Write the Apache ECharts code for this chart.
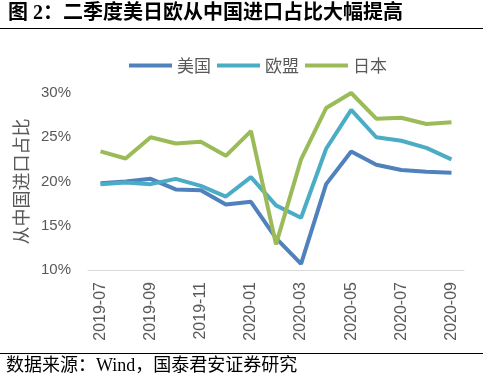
<!DOCTYPE html>
<html><head><meta charset="utf-8">
<script src="https://cdn.jsdelivr.net/npm/echarts@6/dist/echarts.min.js"></script>
<style>html,body{margin:0;padding:0;background:#fff}#c{width:483px;height:379px}</style>
</head><body><div id="c"></div>
<script>
const categories = ['2019-07','2019-08','2019-09','2019-10','2019-11','2019-12','2020-01','2020-02','2020-03','2020-04','2020-05','2020-06','2020-07','2020-08','2020-09'];
const usValues = [19.8, 20.0, 20.3, 19.1, 19.0, 17.4, 17.7, 13.6, 10.7, 19.7, 23.4, 21.9, 21.3, 21.1, 21.0];
const euValues = [19.7, 19.9, 19.7, 20.3, 19.5, 18.3, 20.5, 17.3, 15.9, 23.7, 28.1, 25.0, 24.6, 23.8, 22.5];
const jpValues = [23.4, 22.6, 25.0, 24.3, 24.5, 22.9, 25.7, 12.9, 22.5, 28.3, 30.0, 27.1, 27.2, 26.5, 26.7];
const seriesNames = ['美国', '欧盟', '日本'];
const colors = ['#4f81bd', '#4bacc6', '#9bbb59'];
const titleText = '图 2：二季度美日欧从中国进口占比大幅提高';
const sourceText = '数据来源：Wind，国泰君安证券研究';
const yName = '从中国进口占比';

const chart = echarts.init(document.getElementById('c'), null, {renderer: 'canvas'});
const mk = (name, data, color) => ({
  name, type: 'line', data, showSymbol: false, symbol: 'none',
  lineStyle: {width: 4, color}, itemStyle: {color}, animation: false
});
chart.setOption({
  animation: false,
  backgroundColor: '#fff',
  graphic: [
    {type: 'text', left: 8, top: 4, style: {text: titleText, font: 'bold 20px "Liberation Serif","Noto Sans CJK SC"', fill: '#000'}},
    {type: 'line', shape: {x1: 0, y1: 28.5, x2: 483, y2: 28.5}, style: {stroke: '#000', lineWidth: 1}},
    {type: 'line', shape: {x1: 0, y1: 353.5, x2: 483, y2: 353.5}, style: {stroke: '#000', lineWidth: 1}},
    {type: 'text', left: 6, top: 357, style: {text: sourceText, font: '18px "Liberation Serif","Noto Sans CJK SC"', fill: '#000'}}
  ],
  legend: {
    top: 52, left: 124,
    icon: 'rect', itemWidth: 43, itemHeight: 4, itemGap: 6,
    textStyle: {fontSize: 17, color: '#595959', fontFamily: '"Noto Sans CJK SC"'},
    data: seriesNames
  },
  grid: {left: 88, right: 19, top: 93, bottom: 109, containLabel: false},
  xAxis: {
    type: 'category', data: categories, boundaryGap: true,
    axisLine: {lineStyle: {color: '#d9d9d9', width: 1}},
    axisTick: {show: false},
    axisLabel: {rotate: 90, interval: 1, fontSize: 16, color: '#595959', fontFamily: '"Liberation Sans", Arial', margin: 12}
  },
  yAxis: {
    type: 'value', min: 10, max: 30, interval: 5,
    name: yName, nameLocation: 'middle', nameRotate: 90, nameGap: 51,
    nameTextStyle: {fontSize: 18, color: '#595959', fontFamily: '"Noto Sans CJK SC"'},
    axisLine: {show: false}, axisTick: {show: false}, splitLine: {show: false},
    axisLabel: {formatter: '{value}%', fontSize: 15, color: '#595959', fontFamily: '"Liberation Sans", Arial', margin: 17}
  },
  series: [mk(seriesNames[0], usValues, colors[0]), mk(seriesNames[1], euValues, colors[1]), mk(seriesNames[2], jpValues, colors[2])]
});
</script></body></html>
